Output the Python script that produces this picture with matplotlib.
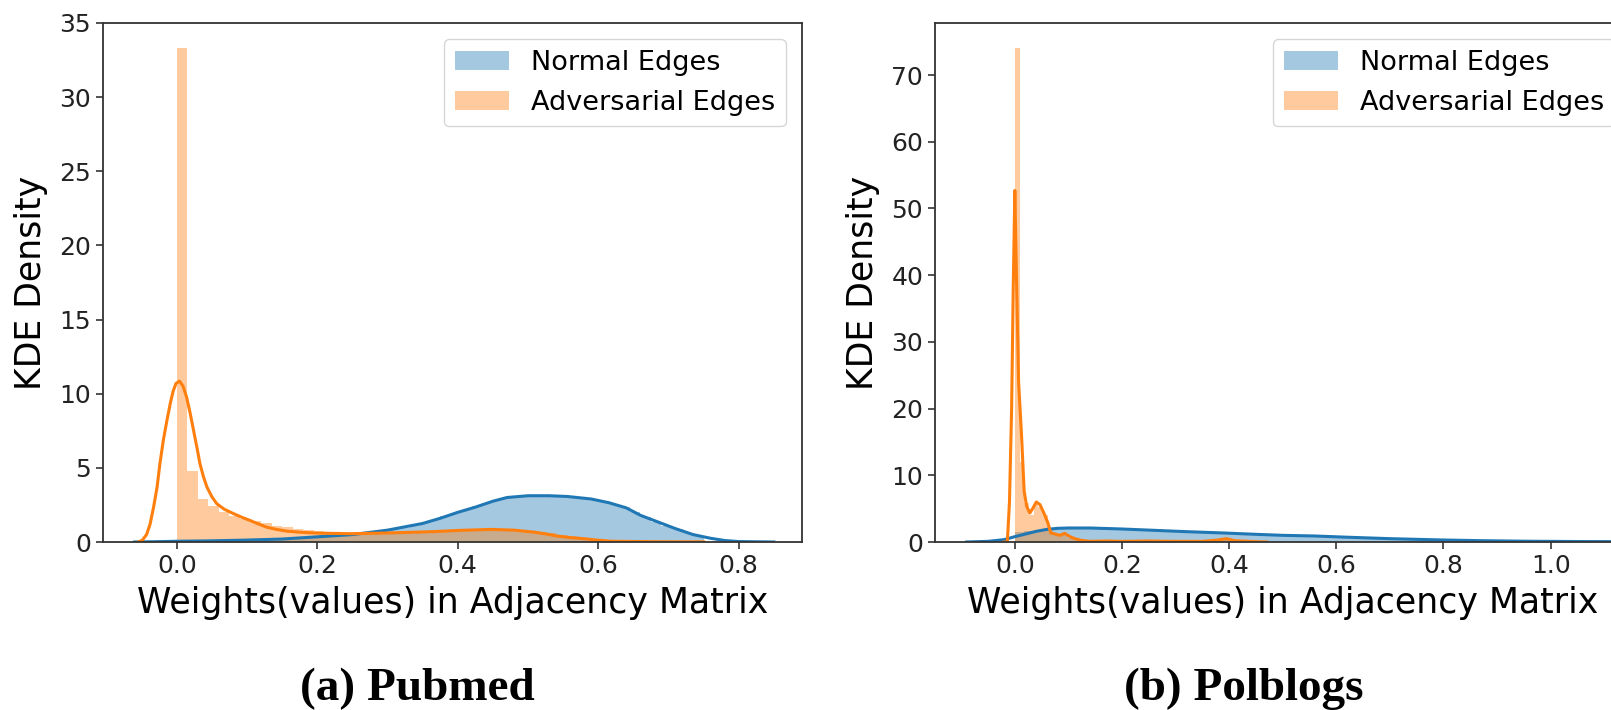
import matplotlib
matplotlib.use('Agg')
import matplotlib.pyplot as plt
import numpy as np

# ---- (a) Pubmed ----
# histogram bars (density), equal-width bins over [0, 0.75]
pub_normal_hist = [0.05, 0.06, 0.07, 0.08, 0.09, 0.10, 0.12, 0.14, 0.16, 0.19,
                   0.22, 0.26, 0.30, 0.35, 0.40, 0.45, 0.50, 0.57, 0.65, 0.75,
                   0.85, 0.97, 1.10, 1.27, 1.48, 1.72, 1.98, 2.18, 2.40, 2.62,
                   2.85, 3.00, 3.08, 3.12, 3.13, 3.12, 3.09, 3.05, 2.98, 2.88,
                   2.75, 2.58, 2.35, 2.05, 1.70, 1.38, 1.10, 0.85, 0.60, 0.38]
pub_adv_hist = [33.3, 4.78, 2.92, 2.45, 2.0, 1.75, 1.55, 1.4, 1.25, 1.1,
                0.98, 0.88, 0.8, 0.72, 0.66, 0.62, 0.6, 0.6, 0.62, 0.64,
                0.66, 0.68, 0.7, 0.72, 0.74, 0.76, 0.78, 0.8, 0.82, 0.84,
                0.85, 0.84, 0.8, 0.75, 0.7, 0.62, 0.5, 0.38, 0.28, 0.2,
                0.14, 0.1, 0.07, 0.05, 0.04, 0.03, 0.03, 0.02, 0.02, 0.02]
pub_bins = (0.0, 0.75)

# KDE curves
pub_normal_kde_x = [-0.06, -0.03, 0.0, 0.05, 0.10, 0.15, 0.20, 0.25, 0.30, 0.35,
                    0.375, 0.40, 0.425, 0.45, 0.47, 0.50, 0.53, 0.556, 0.59, 0.615,
                    0.64, 0.66, 0.685, 0.71, 0.735, 0.76, 0.78, 0.80, 0.85]
pub_normal_kde_y = [0.0, 0.02, 0.05, 0.08, 0.13, 0.2, 0.35, 0.5, 0.8, 1.25,
                    1.6, 2.0, 2.35, 2.75, 3.0, 3.12, 3.12, 3.07, 2.9, 2.65,
                    2.3, 1.8, 1.35, 0.9, 0.5, 0.25, 0.1, 0.03, 0.0]
pub_adv_kde_x = [-0.055, -0.049, -0.043, -0.038, -0.033, -0.028, -0.024, -0.019, -0.014,
                 -0.009, -0.005, -0.001, 0.004, 0.009, 0.014, 0.019, 0.024, 0.029,
                 0.033, 0.038, 0.043, 0.05, 0.057, 0.068, 0.081, 0.093, 0.104, 0.116,
                 0.128, 0.142, 0.157, 0.178, 0.2, 0.247, 0.294, 0.33, 0.366, 0.40,
                 0.447, 0.48, 0.508, 0.525, 0.542, 0.56, 0.58, 0.60, 0.62, 0.68, 0.75]
pub_adv_kde_y = [0.0, 0.12, 0.5, 1.2, 2.35, 3.7, 5.28, 6.9, 8.2,
                 9.4, 10.2, 10.7, 10.85, 10.5, 9.77, 8.7, 7.5, 6.3,
                 5.28, 4.4, 3.7, 3.05, 2.58, 2.2, 1.91, 1.66, 1.46, 1.22,
                 1.0, 0.85, 0.73, 0.65, 0.6, 0.56, 0.6, 0.65, 0.7, 0.78,
                 0.85, 0.8, 0.67, 0.55, 0.4, 0.3, 0.22, 0.12, 0.05, 0.02, 0.01]

# ---- (b) Polblogs ----
pol_normal_hist = [1.5, 1.7, 1.85, 1.95, 2.05, 2.1, 2.1, 2.1, 2.05, 2.0,
                   2.0, 1.95, 1.9, 1.85, 1.8, 1.75, 1.7, 1.65, 1.6, 1.55,
                   1.5, 1.45, 1.4, 1.35, 1.25, 1.2, 1.15, 1.1, 1.05, 1.0,
                   0.95, 0.92, 0.88, 0.84, 0.8, 0.75, 0.7, 0.65, 0.6, 0.55,
                   0.5, 0.47, 0.43, 0.4, 0.37, 0.33, 0.3, 0.27, 0.24, 0.22]
pol_normal_bins = (0.0, 0.875)
pol_adv_hist = [74.0, 12.0, 5.9, 4.1, 5.9, 5.3, 4.1, 1.8, 1.3, 0.9,
                1.1, 0.6, 0.4, 0.3, 0.2, 0.15, 0.1, 0.15, 0.1, 0.2,
                0.1, 0.15, 0.1, 0.1, 0.15, 0.1, 0.2, 0.1, 0.1, 0.15,
                0.1, 0.2, 0.15, 0.1, 0.1, 0.15, 0.1, 0.1, 0.2, 0.15,
                0.1, 0.1, 0.3, 0.6, 0.3, 0.1, 0.1, 0.1, 0.1, 0.1, 0.1]
pol_adv_bins = (0.0, 0.45)

pol_normal_kde_x = [-0.09, -0.05, -0.02, 0.0, 0.02, 0.04, 0.06, 0.08, 0.10, 0.14,
                    0.20, 0.26, 0.32, 0.39, 0.45, 0.50, 0.56, 0.62, 0.70, 0.80,
                    0.87, 0.95, 1.05, 1.15]
pol_normal_kde_y = [0.0, 0.1, 0.35, 0.8, 1.2, 1.6, 1.9, 2.05, 2.1, 2.1,
                    1.95, 1.75, 1.55, 1.35, 1.15, 1.0, 0.9, 0.72, 0.5, 0.3,
                    0.2, 0.12, 0.07, 0.04]
pol_adv_kde_x = [-0.02, -0.014, -0.01, -0.006, -0.003, 0.0, 0.003, 0.007, 0.0125, 0.0174,
                 0.022, 0.028, 0.034, 0.04, 0.047, 0.055, 0.062, 0.067, 0.075, 0.084,
                 0.093, 0.103, 0.112, 0.124, 0.14, 0.17, 0.2, 0.25, 0.3, 0.35,
                 0.38, 0.395, 0.41, 0.45, 0.47]
pol_adv_kde_y = [0.0, 0.0, 6.0, 20.0, 38.0, 52.7, 40.0, 24.0, 16.0, 7.6,
                 5.35, 4.35, 5.1, 6.0, 5.6, 4.2, 2.8, 1.35, 1.2, 1.0,
                 1.3, 0.8, 0.5, 0.25, 0.1, 0.15, 0.1, 0.15, 0.1, 0.1,
                 0.3, 0.5, 0.2, 0.05, 0.0]

labels = ['Normal Edges', 'Adversarial Edges']
captions = ['(a) Pubmed', '(b) Polblogs']
xlabel = 'Weights(values) in Adjacency Matrix'
ylabel = 'KDE Density'

blue = '#1f77b4'
orange = '#ff7f0e'


def draw_hist(ax, heights, rng, color, label):
    edges = np.linspace(rng[0], rng[1], len(heights) + 1)
    ax.bar(edges[:-1], heights, width=np.diff(edges), align='edge',
           color=color, alpha=0.4, linewidth=0, label=label)


def style_axes(ax, xticks, yticks, xlim, ylim):
    ax.set_xlim(*xlim)
    ax.set_ylim(*ylim)
    ax.set_xticks(xticks)
    ax.set_yticks(yticks)
    ax.set_xticklabels(['%.1f' % t for t in xticks])
    ax.tick_params(labelsize=18, length=5, width=1.1, colors='#222222')
    for s in ax.spines.values():
        s.set_linewidth(1.3)
        s.set_color('#333333')
    ax.set_xlabel(xlabel, fontsize=25, labelpad=6)
    ax.set_ylabel(ylabel, fontsize=25, labelpad=8)
    ax.legend(loc='upper right', fontsize=19.5, borderaxespad=0.6)


fig = plt.figure(figsize=(16.11, 7.10), dpi=100)
ax1 = fig.add_axes([103 / 1611, 1 - 542 / 710, 699 / 1611, 519 / 710])
ax2 = fig.add_axes([935 / 1611, 1 - 542 / 710, 696 / 1611, 519 / 710])

# left panel
draw_hist(ax1, pub_normal_hist, pub_bins, blue, labels[0])
ax1.plot(pub_normal_kde_x, pub_normal_kde_y, color=blue, lw=2.2, solid_joinstyle='round')
draw_hist(ax1, pub_adv_hist, pub_bins, orange, labels[1])
ax1.plot(pub_adv_kde_x, pub_adv_kde_y, color=orange, lw=2.2, solid_joinstyle='round')
style_axes(ax1, [0.0, 0.2, 0.4, 0.6, 0.8], range(0, 36, 5), (-0.105, 0.89), (0, 35))

# right panel
draw_hist(ax2, pol_normal_hist, pol_normal_bins, blue, labels[0])
ax2.plot(pol_normal_kde_x, pol_normal_kde_y, color=blue, lw=2.2, solid_joinstyle='round')
draw_hist(ax2, pol_adv_hist, pol_adv_bins, orange, labels[1])
ax2.plot(pol_adv_kde_x, pol_adv_kde_y, color=orange, lw=2.2, solid_joinstyle='round')
style_axes(ax2, [0.0, 0.2, 0.4, 0.6, 0.8, 1.0], range(0, 71, 10), (-0.149, 1.15), (0, 77.8))

# sub-captions
fig.text(417 / 1611, 1 - 689 / 710, captions[0], ha='center', va='center',
         fontsize=34, fontweight='bold', family='Liberation Serif')
fig.text(1244 / 1611, 1 - 689 / 710, captions[1], ha='center', va='center',
         fontsize=34, fontweight='bold', family='Liberation Serif')

fig.savefig('out.png', dpi=100)
